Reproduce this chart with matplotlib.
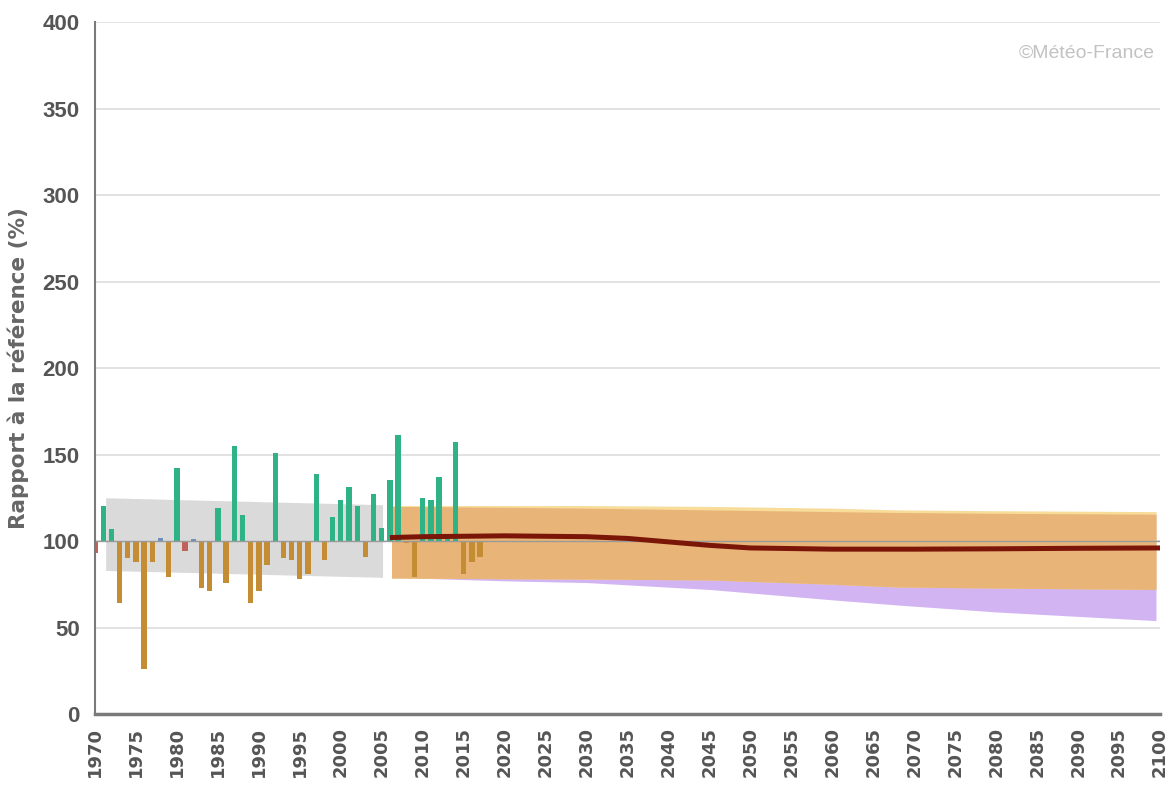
import matplotlib
matplotlib.use("Agg")
import matplotlib.pyplot as plt
import numpy as np

# ---- data ----
bar_years = list(range(1970, 2018))
bar_values = [93, 120, 107, 64, 90, 88, 26, 88, 101.5, 79,
              142, 94, 101, 73, 71, 119, 76, 155, 115, 64,
              71, 86, 151, 90, 89, 78, 81, 139, 89, 114,
              124, 131, 120, 91, 127, 107.5, 135, 161, 99, 79,
              125, 124, 137, 103, 157, 81, 88, 91]

ref_years = [1971.3, 2005.1]
ref_upper = [125, 121]
ref_lower = [83, 79]

proj_years = [2006.2, 2020, 2030, 2045, 2060, 2068, 2080, 2099.5]
orange_upper = [120, 119.5, 119, 118, 117, 116.5, 116, 115.5]
orange_lower = [78.6, 78.2, 78, 77.5, 75, 73.4, 72.8, 72]
yellow_upper = [120.5, 120.5, 120.5, 120, 119, 118, 117.5, 117]
purple_lower = [79, 77, 76, 72, 66, 63, 59, 54]

med_years = [2006, 2010, 2020, 2030, 2035, 2040, 2045, 2050, 2060, 2070, 2080, 2090, 2100]
med_values = [102, 102.5, 103, 102.5, 101.5, 99.5, 97.5, 96, 95.3, 95.3, 95.5, 95.8, 96]

y_ticks = [0, 50, 100, 150, 200, 250, 300, 350, 400]
x_ticks = list(range(1970, 2101, 5))

# ---- style ----
GREEN = "#2fb386"
BROWN = "#c48d33"
special_colors = {1970: "#c0625a", 1981: "#c0625a", 1978: "#6f8fb8", 1982: "#6f8fb8"}

fig = plt.figure(figsize=(11.7, 7.97), dpi=100)
ax = fig.add_axes([0.0812, 0.1041, 0.9103, 0.8683])

ax.set_xlim(1970, 2100)
ax.set_ylim(0, 400)

for yv in y_ticks[1:]:
    ax.axhline(yv, color="#dddddd", lw=1.2, zorder=0)

# bands
ax.fill_between(proj_years, purple_lower, orange_upper, color="#d2b4f2", lw=0, zorder=1)
ax.fill_between(proj_years, orange_lower, yellow_upper, color="#f7dc9a", lw=0, zorder=1.5)
ax.fill_between(proj_years, orange_lower, orange_upper, color="#e8b477", lw=0, zorder=2)
ax.fill_between(ref_years, ref_lower, ref_upper, color="#dadada", lw=0, zorder=1)

# bars
colors = []
for yr, v in zip(bar_years, bar_values):
    if yr in special_colors:
        colors.append(special_colors[yr])
    elif v >= 100:
        colors.append(GREEN)
    else:
        colors.append(BROWN)
heights = [v - 100 for v in bar_values]
ax.bar(bar_years, heights, bottom=100, width=0.65, color=colors, lw=0, zorder=3)

ax.axhline(100, color="#9a9a9a", lw=1.0, zorder=3.5)

# median line
ax.plot(med_years, med_values, color="#7a1508", lw=3.6, zorder=4, solid_capstyle="butt")

# axes styling
for s in ["top", "right"]:
    ax.spines[s].set_visible(False)
ax.spines["left"].set_color("#7a7a7a")
ax.spines["left"].set_linewidth(1.5)
ax.spines["bottom"].set_color("#7a7a7a")
ax.spines["bottom"].set_linewidth(2.5)
ax.spines["left"].set_zorder(5)

ax.set_yticks(y_ticks)
ax.set_yticklabels([str(v) for v in y_ticks],
                   fontdict=dict(family="Liberation Sans", weight="bold", size=16, color="#555555"))
ax.set_xticks(x_ticks)
ax.set_xticklabels([str(v) for v in x_ticks], rotation=90,
                   fontdict=dict(family="DejaVu Sans", weight="bold", size=13, color="#555555"))
ax.tick_params(axis="both", length=0)
ax.tick_params(axis="y", pad=11)
ax.tick_params(axis="x", pad=9)

ax.set_ylabel("Rapport à la référence (%)", fontsize=15.5, fontweight="bold",
              color="#666666", family="DejaVu Sans")
ax.yaxis.set_label_coords(-0.062, 0.5)

ax.text(0.995, 0.955, "©Météo-France", transform=ax.transAxes, ha="right", va="center",
        fontsize=14, color="#c2c2c2", family="Liberation Sans")

fig.savefig("out.png", dpi=100)
